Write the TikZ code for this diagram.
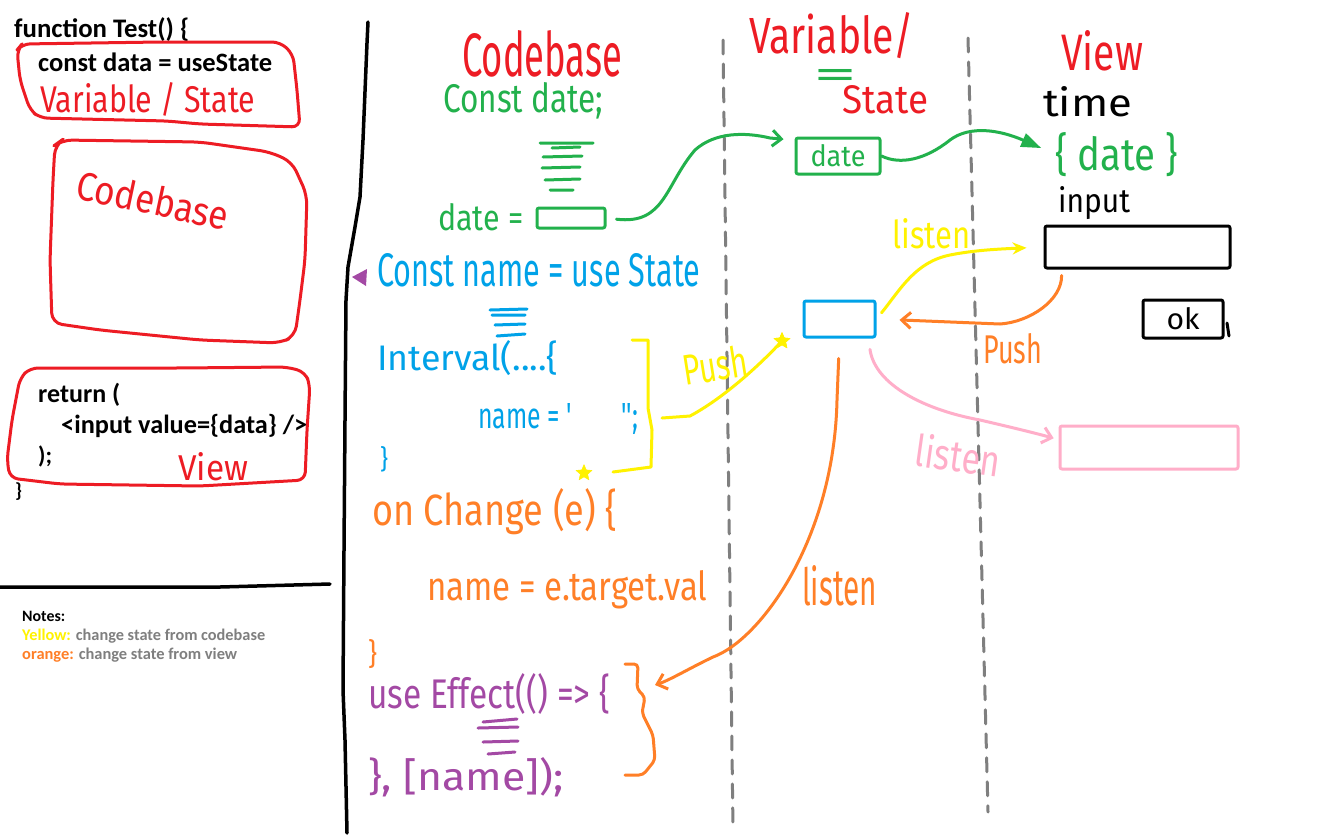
\documentclass[tikz,border=0pt]{standalone}
\usepackage{fontspec}
\setmainfont{Carlito}
\newfontfamily\hwfont{Fira Sans}
\usetikzlibrary{arrows.meta,shapes.geometric}
\definecolor{pred}{HTML}{ED1C24}
\definecolor{pgreen}{HTML}{22B14C}
\definecolor{pblue}{HTML}{00A2E8}
\definecolor{pyellow}{HTML}{FFF200}
\definecolor{porange}{HTML}{FF7F27}
\definecolor{ppurple}{HTML}{A349A4}
\definecolor{ppink}{HTML}{FFAEC9}
\definecolor{pgray}{HTML}{7F7F7F}
\newcommand{\hw}[3]{\resizebox{#1pt}{#2pt}{\hwfont #3}}
\newcommand{\cbx}[2]{\resizebox{#1pt}{!}{\bfseries #2}}
\begin{document}
\begin{tikzpicture}[x=1pt,y=-1pt,line cap=round,line join=round,
  txt/.style={inner sep=0pt,anchor=base west},
  pen/.style={line width=3pt},
  bx/.style={draw,line width=3pt,inner sep=0pt,rounded corners=2pt},
  barb/.style={-{Straight Barb[length=9pt,width=16pt]}},
  starry/.style={star,star points=5,star point ratio=2.2,fill=pyellow,draw=pyellow,minimum size=17pt,inner sep=0pt},
  dashline/.style={line width=3pt,pgray,dash pattern=on 14pt off 10pt}]
\useasboundingbox (0,0) rectangle (1329,836);
\fill[white] (0,0) rectangle (1329,836);

% ---------- left panel ----------
\node[txt] (fn) at (14,37) {\cbx{175}{function Test() \{}};
\draw[pen,pred,rounded corners=8pt] (17,50) -- (22,44) -- (160,42) -- (280,42) -- (293,54) -- (297,90) -- (300,127) -- (200,124) -- (167,121) -- (40,118) -- (30,110) -- (20,80) -- cycle;
\node[txt] (cd) at (38,71) {\cbx{234}{const data = useState}};
\node[txt,text=pred] (vs) at (40,112) {\hw{215}{30}{Variable / State}};

\draw[pen,pred,rounded corners=10pt] (55,145) -- (62,140) -- (200,142) -- (270,152) -- (292,162) -- (307,195) -- (305,260) -- (300,300) -- (295,336) -- (280,343) -- (200,340) -- (100,330) -- (52,323) -- (50,260) -- (53,180) -- cycle;
\node[text=pred,inner sep=0pt,rotate=-12] (cbase) at (153,200) {\hw{155}{30}{Codebase}};

\draw[pen,pred,rounded corners=8pt] (30,368) -- (180,368) -- (287,367) -- (305,372) -- (310,385) -- (307,430) -- (305,480) -- (200,486) -- (60,484) -- (10,478) -- (7,460) -- (12,420) -- (20,378) -- cycle;
\node[txt] (ret) at (38,402) {\cbx{82}{return (}};
\node[txt] (inp) at (61,433) {\cbx{246}{<input value=\{data\} />}};
\node[txt] (cls) at (38,463) {\cbx{14}{);}};
\node[txt,text=pred] (vw) at (178,480) {\hw{70}{28}{View}};
\node[txt] (fcl) at (15,497) {\cbx{7}{\}}};

\draw[line width=3.5pt] (0,587) -- (100,587) -- (220,587) -- (330,584);
\node[txt] (notes) at (22,621) {\cbx{43}{Notes:}};
\node[txt] (n1) at (22,640) {\resizebox{243pt}{!}{\bfseries\textcolor{pyellow}{Yellow:} \textcolor{pgray}{change state from codebase}}};
\node[txt] (n2) at (22,659) {\resizebox{215pt}{!}{\bfseries\textcolor{porange}{orange:} \textcolor{pgray}{change state from view}}};

% ---------- separators ----------
\draw[line width=3.5pt] (368,22) -- (367,43) -- (363,140) -- (360,197) -- (355,227) -- (348,267) -- (346,300) -- (345,420) -- (344,550) -- (343,690) -- (345,740) -- (347,833);
\draw[dashline] (723,40) -- (733,830);
\draw[dashline] (968,38) -- (988,812);

% ---------- headers ----------
\node[txt,text=pred] (hcode) at (462,76) {\hw{160}{46}{Codebase}};
\node[txt,text=pred] (hvar) at (749,53) {\hw{165}{41}{Variable/}};
\node[txt,text=pgreen] (heq) at (813,88) {\hw{44}{19}{=}};
\node[txt,text=pred] (hstate) at (842,113) {\hw{86}{28}{State}};
\node[txt,text=pred] (hview) at (1061,70) {\hw{82}{40}{View}};

% ---------- codebase column ----------
\node[txt,text=pgreen] (cdate) at (443,112) {\hw{160}{30}{Const date;}};
\draw[pen,pgreen] (540,143) -- (593,143) (552,148) -- (580,147) (543,157) -- (582,156) (542,168) -- (580,167) (545,180) -- (580,179) (550,190) -- (573,190);
\node[txt,text=pgreen] (deq) at (438,230) {\hw{85}{27}{date =}};
\node[bx,draw=pgreen,minimum width=68pt,minimum height=20pt] (gsrc) at (571,218) {};

\fill[ppurple] (352,277) -- (367,269) -- (366,286) -- cycle;
\node[txt,text=pblue] (cname) at (377,286) {\hw{323}{33}{Const name = use State}};
\draw[pen,pblue] (490,310) -- (527,309) (492,315) -- (525,315) (495,325) -- (525,324) (497,336) -- (525,334);
\node[txt,text=pblue] (intv) at (377,370) {\hw{181}{30}{Interval(....\{}};
\node[txt,text=pblue] (nm) at (478,428) {\hw{160}{25}{name = '\hspace{2em}'';}};
\node[txt,text=pblue] (bcl) at (380,468) {\hw{8}{22}{\}}};

\draw[pen,pyellow] (632,340) -- (648,340) -- (648,408) -- (652,430) -- (651,467) -- (613,472);
\node[starry] (ystar2) at (584,473) {};

\node[txt,text=porange] (onch) at (372,525) {\hw{245}{37}{on Change (e) \{}};
\node[txt,text=porange] (ntv) at (427,600) {\hw{280}{30}{name = e.target.val}};
\node[txt,text=porange] (ocl) at (368,664) {\hw{9}{25}{\}}};

\node[txt,text=ppurple] (ueff) at (368,708) {\hw{242}{35}{use Effect(() => \{}};
\draw[pen,ppurple] (483,722) -- (517,719) (478,728) -- (518,727) (483,742) -- (518,741) (488,754) -- (515,752);
\node[txt,text=ppurple] (deps) at (368,790) {\hw{195}{33}{\}, [name]);}};

\draw[pen,porange,rounded corners=4pt] (625,664) -- (638,664) -- (637,689) -- (645,697) -- (642,713) -- (653,735) -- (655,760) -- (643,775) -- (625,775);

% ---------- state column ----------
\node[bx,draw=pgreen,text=pgreen,minimum width=84pt,minimum height=36pt] (gstate) at (838,156) {\hw{55}{22}{date}};
\node[bx,draw=pblue,minimum width=71pt,minimum height=36pt] (bstate) at (839.5,319) {};

% ---------- view column ----------
\node[txt] (time) at (1043,116) {\hw{89}{30}{time}};
\node[txt,text=pgreen] (vdate) at (1055,170) {\hw{123}{38}{\{ date \}}};
\node[txt] (input) at (1058,212) {\hw{72}{26}{input}};
\node[bx,minimum width=185pt,minimum height=42pt] (inbox) at (1137.5,247) {};
\node[bx,minimum width=80pt,minimum height=38pt] (okbox) at (1183,319) {\hw{33}{22}{ok}};
\draw[pen] (1227,323) -- (1229,336);
\node[bx,draw=ppink,minimum width=178pt,minimum height=43pt] (pbox) at (1149,447.5) {};

% ---------- labels ----------
\node[txt,text=pyellow] (ylisten) at (892,248) {\hw{78}{30}{listen}};
\node[text=pyellow,inner sep=0pt,rotate=9] (ypush) at (715,365) {\hw{65}{32}{Push}};
\node[txt,text=porange] (opush) at (983,363) {\hw{59}{30}{Push}};
\node[text=ppink,inner sep=0pt,rotate=-8] (plisten) at (958,455) {\hw{85}{34}{listen}};
\node[txt,text=porange] (olisten) at (802,605) {\hw{75}{40}{listen}};

% ---------- connectors ----------
\draw[pen,pgreen,barb,shorten <=10pt,shorten >=11pt] (gsrc.east) .. controls (665,225) and (665,185) .. (695,150) .. controls (715,132) and (745,132) .. (770,138) -- (gstate.160);
\draw[pen,pgreen,-{Triangle[length=20pt,width=14pt]},shorten >=15pt] (gstate.east) .. controls (900,165) and (925,160) .. (950,140) .. controls (970,125) and (1000,130) .. (vdate.west);

\coordinate (brk) at (662,418);
\node[starry] (ystar1) at (782,341) {};
\draw[pen,pyellow] (brk) -- (690,416) .. controls (720,400) and (755,370) .. (ystar1.center);
\node[starry] at (ystar1) {};

\draw[pen,pyellow,-{Stealth[length=14pt,width=12pt]},shorten <=8pt,shorten >=17pt] (bstate.east) .. controls (900,290) and (915,262) .. (950,255) .. controls (975,250) and (1000,249) .. (inbox.west);
\draw[pen,porange,barb,shorten <=6pt,shorten >=23pt] ([xshift=18pt]inbox.south west) .. controls (1062,300) and (1030,322) .. (1000,324) -- (bstate.east);
\coordinate (brc) at (655,685);
\draw[pen,porange,barb,shorten <=20pt] (bstate.south) -- (837,400) .. controls (834,540) and (760,640) .. (713,657) .. controls (690,668) and (670,680) .. (brc);
\draw[pen,ppink,barb,shorten <=11pt,shorten >=5pt] (bstate.-34) .. controls (875,385) and (925,410) .. (980,420) .. controls (1010,427) and (1035,433) .. (pbox.175);
\end{tikzpicture}
\end{document}
